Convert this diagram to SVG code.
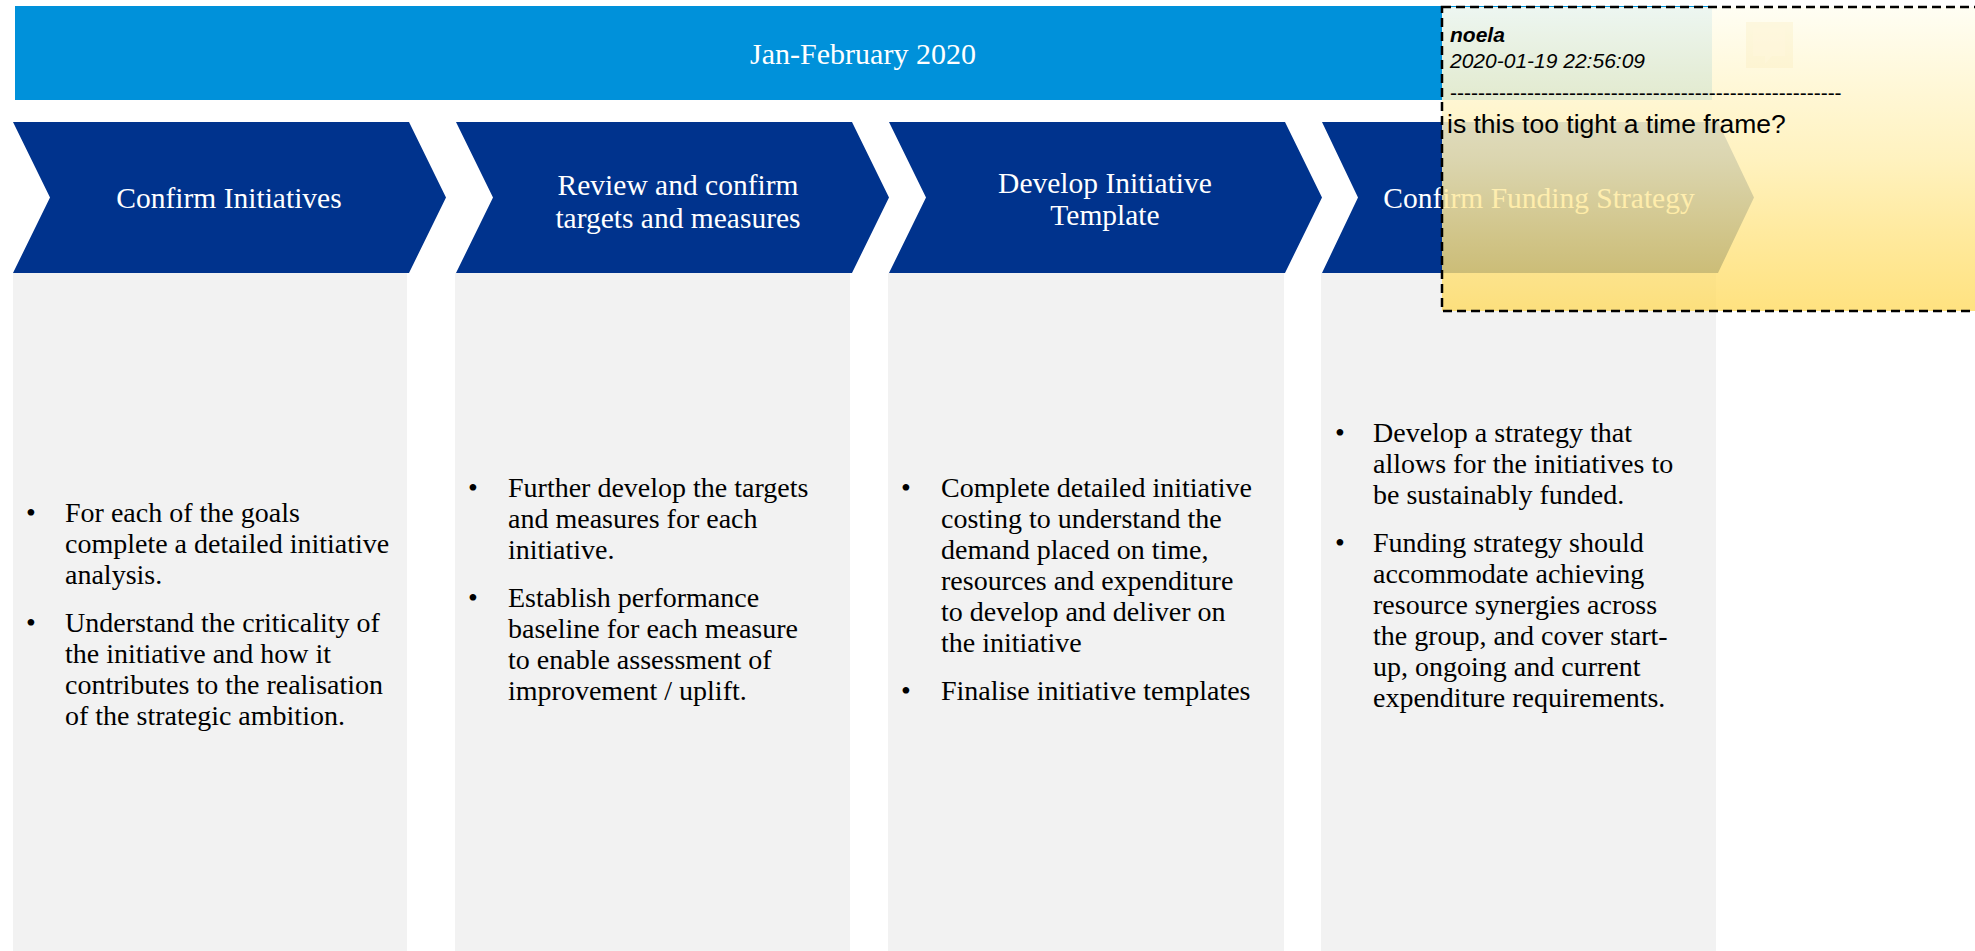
<svg xmlns="http://www.w3.org/2000/svg" width="1975" height="951" viewBox="0 0 1975 951">
  <defs>
    <linearGradient id="noteFill" x1="0" y1="0" x2="0" y2="1">
      <stop offset="0" stop-color="#FFFEF3" stop-opacity="0.93"/>
      <stop offset="0.5" stop-color="#FFF0B5" stop-opacity="0.86"/>
      <stop offset="1" stop-color="#FFDA5C" stop-opacity="0.78"/>
    </linearGradient>
  </defs>
  <style>
    .band { fill: #0091DA; }
    .chev { fill: #00338D; }
    .panel { fill: #F2F2F2; }
    .head { font-family: "Liberation Serif", "Times New Roman", serif; font-size: 30px; fill: #FFFFFF; text-anchor: middle; }
    .chevtxt { font-family: "Liberation Serif", "Times New Roman", serif; font-size: 29.5px; fill: #FFFFFF; text-anchor: middle; }
    .body { font-family: "Liberation Serif", "Times New Roman", serif; font-size: 28px; fill: #000000; }
    .note { font-family: "Liberation Sans", Arial, sans-serif; fill: #000000; }
  </style>

  <rect width="1975" height="951" fill="#FFFFFF"/>

  <!-- timeline band -->
  <g id="period">
    <rect class="band" x="15" y="6" width="1697" height="94"/>
    <text class="head" x="863" y="64">Jan-February 2020</text>
  </g>

  <!-- step 1 -->
  <g id="step-confirm-initiatives">
    <polygon class="chev" points="13,122 409,122 446,197.5 409,273 13,273 50,197.5"/>
    <text class="chevtxt" x="229" y="208">Confirm Initiatives</text>
    <rect class="panel" x="13" y="273" width="394" height="678"/>
    <g class="body">
      <text x="26" y="522">•</text>
      <text x="65" y="522">For each of the goals</text>
      <text x="65" y="553">complete a detailed initiative</text>
      <text x="65" y="584">analysis.</text>
      <text x="26" y="632">•</text>
      <text x="65" y="632">Understand the criticality of</text>
      <text x="65" y="663">the initiative and how it</text>
      <text x="65" y="694">contributes to the realisation</text>
      <text x="65" y="725">of the strategic ambition.</text>
    </g>
  </g>

  <!-- step 2 -->
  <g id="step-review-targets">
    <polygon class="chev" points="456,122 852,122 889,197.5 852,273 456,273 493,197.5"/>
    <text class="chevtxt" x="678" y="195">Review and confirm</text>
    <text class="chevtxt" x="678" y="228">targets and measures</text>
    <rect class="panel" x="455" y="273" width="395" height="678"/>
    <g class="body">
      <text x="468" y="497">•</text>
      <text x="508" y="497">Further develop the targets</text>
      <text x="508" y="528">and measures for each</text>
      <text x="508" y="559">initiative.</text>
      <text x="468" y="607">•</text>
      <text x="508" y="607">Establish performance</text>
      <text x="508" y="638">baseline for each measure</text>
      <text x="508" y="669">to enable assessment of</text>
      <text x="508" y="700">improvement / uplift.</text>
    </g>
  </g>

  <!-- step 3 -->
  <g id="step-initiative-template">
    <polygon class="chev" points="889,122 1285,122 1322,197.5 1285,273 889,273 926,197.5"/>
    <text class="chevtxt" x="1105" y="193">Develop Initiative</text>
    <text class="chevtxt" x="1105" y="225">Template</text>
    <rect class="panel" x="888" y="273" width="396" height="678"/>
    <g class="body">
      <text x="901" y="497">•</text>
      <text x="941" y="497">Complete detailed initiative</text>
      <text x="941" y="528">costing to understand the</text>
      <text x="941" y="559">demand placed on time,</text>
      <text x="941" y="590">resources and expenditure</text>
      <text x="941" y="621">to develop and deliver on</text>
      <text x="941" y="652">the initiative</text>
      <text x="901" y="700">•</text>
      <text x="941" y="700">Finalise initiative templates</text>
    </g>
  </g>

  <!-- step 4 -->
  <g id="step-funding-strategy">
    <polygon class="chev" points="1322,122 1718,122 1754,197.5 1718,273 1322,273 1358,197.5"/>
    <text class="chevtxt" x="1539" y="208">Confirm Funding Strategy</text>
    <rect class="panel" x="1321" y="273" width="395" height="678"/>
    <g class="body">
      <text x="1335" y="442">•</text>
      <text x="1373" y="442">Develop a strategy that</text>
      <text x="1373" y="473">allows for the initiatives to</text>
      <text x="1373" y="504">be sustainably funded.</text>
      <text x="1335" y="552">•</text>
      <text x="1373" y="552">Funding strategy should</text>
      <text x="1373" y="583">accommodate achieving</text>
      <text x="1373" y="614">resource synergies across</text>
      <text x="1373" y="645">the group, and cover start-</text>
      <text x="1373" y="676">up, ongoing and current</text>
      <text x="1373" y="707">expenditure requirements.</text>
    </g>
  </g>

  <!-- review comment sticky note -->
  <g id="comment-note">
    <rect x="1442" y="7" width="560" height="304" fill="url(#noteFill)" stroke="#000000" stroke-width="2.5" stroke-dasharray="9 5"/>
    <rect x="1746" y="22" width="47" height="46" fill="#F6E6B0" opacity="0.25"/>
    <path d="M1753,28 H1785 V56 H1772 L1765,64 V56 H1753 Z" fill="#FFF8DE" opacity="0.4"/>
    <text class="note" x="1450" y="42" font-size="21" font-weight="bold" font-style="italic">noela</text>
    <text class="note" x="1450" y="68" font-size="21" font-style="italic">2020-01-19 22:56:09</text>
    <text class="note" x="1450" y="100" font-size="21">--------------------------------------------------------</text>
    <text class="note" x="1447" y="133" font-size="26.5">is this too tight a time frame?</text>
  </g>
</svg>
